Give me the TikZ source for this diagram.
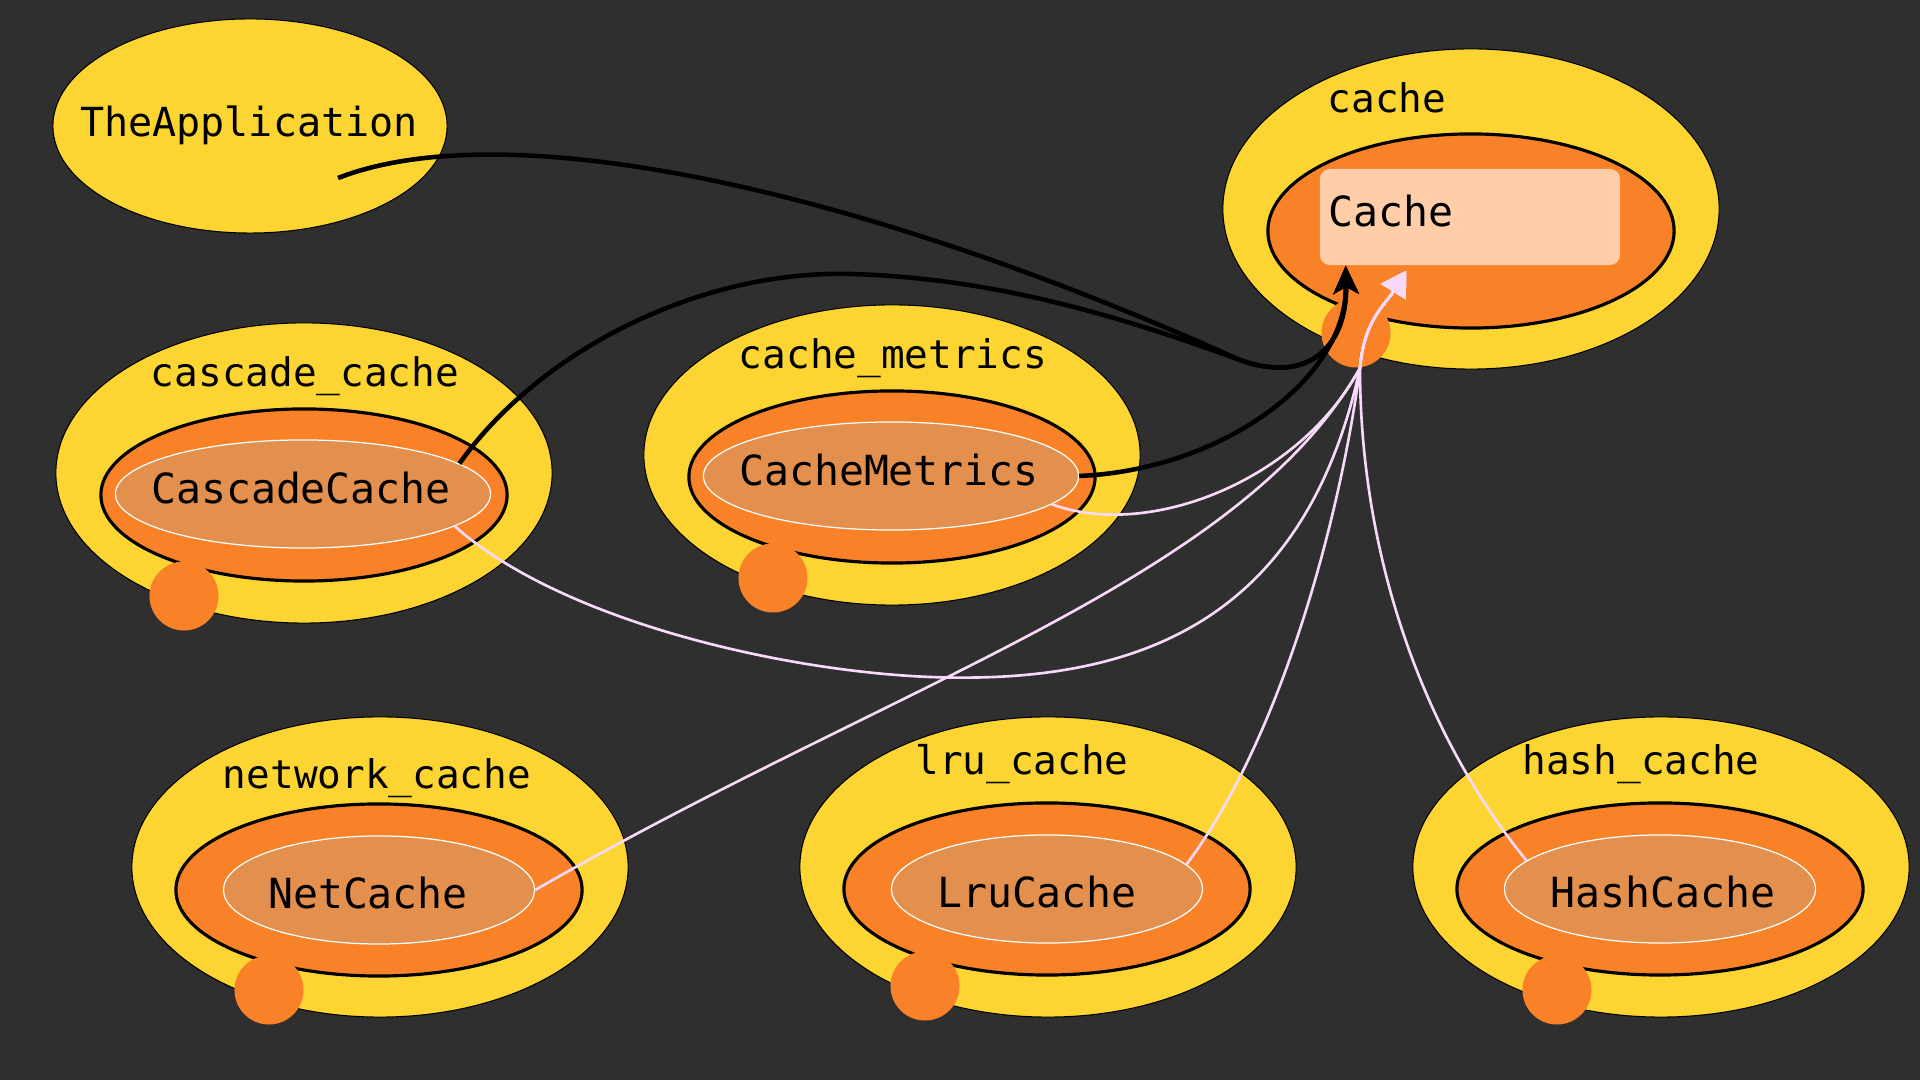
\documentclass[tikz,border=0pt]{standalone}
\usepackage{fontspec}
\newfontfamily\codefont{DejaVu Sans Mono}
\usetikzlibrary{arrows.meta,shapes.geometric}

\definecolor{canvas}{HTML}{2F2F2F}
\definecolor{pkgyellow}{HTML}{FDD533}
\definecolor{pkgorange}{HTML}{F98228}
\definecolor{implfill}{HTML}{E38F4D}
\definecolor{classfill}{HTML}{FFCEA8}
\definecolor{implpink}{HTML}{F9D9F9}

\begin{document}
\begin{tikzpicture}[
    x=0.01cm, y=-0.01cm,
    pkgouter/.style={ellipse, draw=black, line width=0.3pt, fill=pkgyellow,
                     minimum width=4.96cm, minimum height=3cm, inner sep=0pt},
    pkginner/.style={ellipse, draw=black, line width=0.9pt, fill=pkgorange,
                     minimum width=4.06cm, minimum height=1.72cm, inner sep=0pt},
    implnode/.style={ellipse, draw=white, line width=0.35pt, fill=implfill,
                     minimum width=3.11cm, minimum height=1.08cm, inner sep=0pt},
    portdot/.style={circle, fill=pkgorange, minimum size=0.69cm, inner sep=0pt},
    classbox/.style={rectangle, fill=classfill, rounded corners=0.1cm,
                     minimum width=3cm, minimum height=0.96cm, inner sep=0pt},
    pkglabel/.style={anchor=base, inner sep=0pt,
                     font=\codefont\fontsize{11.2pt}{13pt}\selectfont},
    typename/.style={anchor=base, inner sep=0pt,
                     font=\codefont\fontsize{11.8pt}{14pt}\selectfont},
    usesarrow/.style={line width=1.3pt, black,
                      -{Stealth[length=8pt,width=7.2pt,inset=2pt]}},
    implarrow/.style={line width=0.75pt, implpink,
                      -{Triangle[length=7pt,width=8.2pt]}}
]

% canvas
\fill[canvas] (0,0) rectangle (1920,1080);
\useasboundingbox (0,0) rectangle (1920,1080);

% the application
\node[pkgouter, minimum width=3.94cm, minimum height=2.14cm] (App) at (250,126) {};
\node[pkglabel, font=\codefont\fontsize{11.4pt}{13pt}\selectfont] (AppName) at (249,137) {TheApplication};

% cache package
\node[pkgouter, minimum height=3.2cm] (CachePkg) at (1471,209) {};
\node[pkglabel] (CachePkgName) at (1387,113) {cache};
\node[pkginner, minimum height=1.94cm] (CacheIn) at (1471,231) {};
\node[portdot] (CachePort) at (1356,333) {};
\node[classbox] (CacheBox) at (1470,217) {};
\node[typename, anchor=base west] (CacheName) at (1328,227) {Cache};

% cascade_cache package
\node[pkgouter] (CascadePkg) at (304,473) {};
\node[pkglabel] (CascadePkgName) at (305,387) {cascade\_cache};
\node[pkginner] (CascadeIn) at (304,495) {};
\node[portdot] (CascadePort) at (184,596) {};
\node[implnode, minimum width=3.75cm] (CascadeImpl) at (303,494) {};
\node[typename] (CascadeName) at (301,504) {CascadeCache};

% cache_metrics package
\node[pkgouter] (MetricsPkg) at (892,455) {};
\node[pkglabel] (MetricsPkgName) at (893,369) {cache\_metrics};
\node[pkginner] (MetricsIn) at (892,477) {};
\node[portdot] (MetricsPort) at (773,578) {};
\node[implnode, minimum width=3.75cm] (MetricsImpl) at (891,476) {};
\node[typename] (MetricsName) at (889,486) {CacheMetrics};

% network_cache package
\node[pkgouter] (NetPkg) at (380,867) {};
\node[pkglabel] (NetPkgName) at (377,789) {network\_cache};
\node[pkginner] (NetIn) at (379,890) {};
\node[portdot] (NetPort) at (269,990) {};
\node[implnode] (NetImpl) at (379,890) {};
\node[typename] (NetName) at (368,909) {NetCache};

% lru_cache package
\node[pkgouter] (LruPkg) at (1048,867) {};
\node[pkglabel] (LruPkgName) at (1022,775) {lru\_cache};
\node[pkginner] (LruIn) at (1047,889) {};
\node[portdot] (LruPort) at (925,986) {};
\node[implnode] (LruImpl) at (1047,889) {};
\node[typename] (LruName) at (1037,908) {LruCache};

% hash_cache package
\node[pkgouter] (HashPkg) at (1661,867) {};
\node[pkglabel] (HashPkgName) at (1641,775) {hash\_cache};
\node[pkginner] (HashIn) at (1660,889) {};
\node[portdot] (HashPort) at (1557,990) {};
\node[implnode] (HashImpl) at (1660,889) {};
\node[typename] (HashName) at (1663,908) {HashCache};

% arrow ends at the Cache box
\coordinate (useTip) at ([xshift=0.265cm]CacheBox.south west);
\coordinate (implTip) at ([xshift=0.87cm,yshift=-0.05cm]CacheBox.south west);
\coordinate (useJoin) at (1240,360);
\coordinate (implJoin) at (1360,368);

% implementations -> Cache
\draw[implarrow] (CascadeImpl.-12)
    .. controls (560,620) and (780,671) .. (930,677)
    .. controls (1140,685) and (1305,620) .. (implJoin)
    .. controls (1364,320) and (1385,305) .. (implTip);
\draw[implarrow] (MetricsImpl.-10)
    .. controls (1150,540) and (1300,480) .. (implJoin)
    .. controls (1364,320) and (1385,305) .. (implTip);
\draw[implarrow] (NetImpl.east)
    .. controls (900,680) and (1240,580) .. (implJoin)
    .. controls (1364,320) and (1385,305) .. (implTip);
\draw[implarrow] (LruImpl.10)
    .. controls (1280,740) and (1340,520) .. (implJoin)
    .. controls (1364,320) and (1385,305) .. (implTip);
\draw[implarrow] (HashImpl.168)
    .. controls (1420,730) and (1360,550) .. (implJoin)
    .. controls (1364,320) and (1385,305) .. (implTip);

% users -> Cache
\draw[usesarrow] ([xshift=0.88cm,yshift=-0.52cm]App.center)
    .. controls (500,115) and (840,180) .. (useJoin)
    .. controls (1310,385) and (1347,345) .. (useTip);
\draw[usesarrow] (CascadeImpl.11)
    .. controls (540,350) and (700,270) .. (850,274)
    .. controls (1000,278) and (1130,320) .. (useJoin)
    .. controls (1310,385) and (1347,345) .. (useTip);
\draw[usesarrow] (MetricsImpl.east)
    .. controls (1220,470) and (1347,380) .. (useTip);

\end{tikzpicture}
\end{document}
